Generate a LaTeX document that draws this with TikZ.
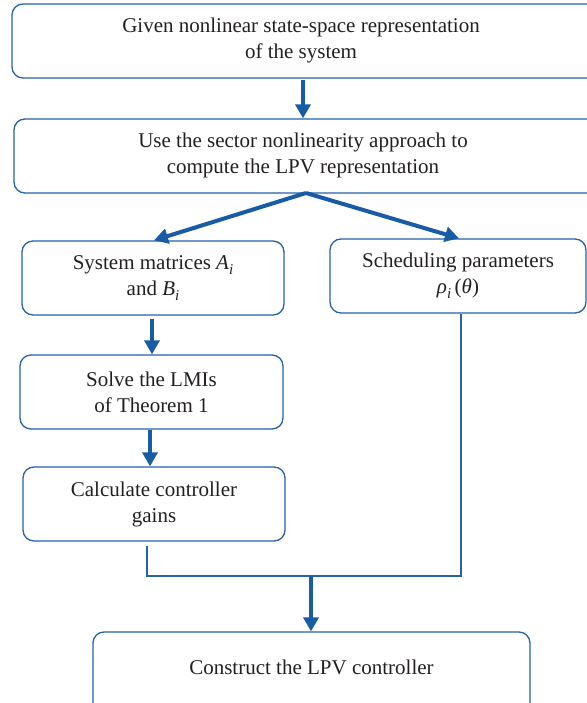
\documentclass[tikz,border=0pt]{standalone}
\usepackage{fontspec}
\setmainfont{Liberation Serif}
\usetikzlibrary{arrows.meta,calc}
\definecolor{boxblue}{RGB}{38,98,168}
\definecolor{arrowblue}{RGB}{24,92,165}
\definecolor{txt}{RGB}{35,31,32}
\newcommand{\subi}{\raisebox{-5pt}{\fontsize{15}{15}\selectfont\itshape i}}
\begin{document}
\begin{tikzpicture}[x=1pt,y=-1pt,
  box/.style={draw=boxblue,line width=1.3pt,rounded corners=11pt,rectangle,
    inner sep=0pt,align=center,text=txt,font=\fontsize{21}{26}\selectfont},
  label text/.style={inner sep=0pt,align=center,text=txt,font=\fontsize{21}{26}\selectfont},
  thickarrow/.style={draw=arrowblue,line width=4pt,
    -{Triangle[width=15pt,length=14pt]}},
  thinline/.style={draw=boxblue,line width=1.2pt}]
\useasboundingbox (0,0) rectangle (586,703);
\node[box,minimum width=600pt,minimum height=74pt] (b1) at (312,41) {};
\node[label text] (t1) at (301,40) {Given nonlinear state-space representation\\of the system};
\node[box,minimum width=600pt,minimum height=74pt] (b2) at (314,156) {};
\node[label text] (t2) at (303,155) {Use the sector nonlinearity approach to\\compute the LPV representation};
\node[box,minimum width=262pt,minimum height=74pt] (b3) at (153,278)
  {System matrices {\itshape A}\subi\\and {\itshape B}\subi};
\node[box,minimum width=256pt,minimum height=74pt] (b4) at (458,276)
  {Scheduling parameters\\{\itshape ρ}\subi\,({\itshape θ})};
\node[box,minimum width=263pt,minimum height=74pt] (b5) at (151.5,392)
  {Solve the LMIs\\of Theorem 1};
\node[box,minimum width=262pt,minimum height=74pt] (b6) at (154,504)
  {Calculate controller\\gains};
\node[box,minimum width=437pt,minimum height=82pt] (b7) at (311.5,673) {};
\node[label text] (t7) at (311.5,667) {Construct the LPV controller};
% connectors
\coordinate (a1s) at (303,80);
\draw[thickarrow] (a1s) -- (a1s |- b2.north);
\coordinate (apex) at (306,193);
\draw[thickarrow] (apex) -- ([xshift=1pt]b3.north);
\draw[thickarrow] (apex) -- ([xshift=1pt]b4.north);
\draw[thickarrow] ([xshift=-1pt,yshift=-3pt]b3.south) -- ([xshift=-1pt]b3.south |- b5.north);
\draw[thickarrow] ([xshift=-1.5pt]b5.south) -- ([xshift=-1.5pt]b5.south |- b6.north);
\coordinate (c1) at (147,546);
\coordinate (jl) at (147,576);
\coordinate (jr) at (461,576);
\coordinate (jm) at (311,576);
\draw[thinline] (c1) -- (jl) -- (jr) -- (jr |- b4.south);
\draw[thickarrow] (jm) -- (jm |- b7.north);
\end{tikzpicture}
\end{document}
